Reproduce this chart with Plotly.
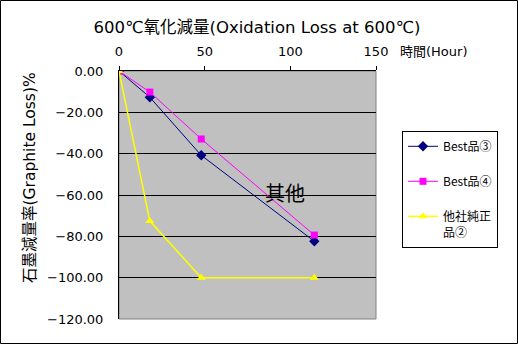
import plotly.graph_objects as go

hours = [0, 18, 48, 114]
best3 = [0, -12.7, -40.8, -82.4]
best4 = [0, -10.2, -32.9, -79.4]
other2 = [0, -72.6, -100.0, -100.0]

names = ["Best品③", "Best品④", "他社純正<br>品②"]
y_ticks = [0, -20, -40, -60, -80, -100, -120]
x_ticks = [0, 50, 100, 150]

FONT = "DejaVu Sans, Noto Sans CJK JP"
CJK = "Noto Sans CJK JP"

fig = go.Figure()
fig.add_trace(go.Scatter(x=hours, y=best3, name=names[0], legendgroup="a",
                         mode="lines+markers",
                         line=dict(color="#000080", width=1),
                         marker=dict(symbol="diamond", size=8, color="#000080")))
fig.add_trace(go.Scatter(x=hours, y=best4, name=names[1], legendgroup="b",
                         mode="lines+markers",
                         line=dict(color="#FF00FF", width=1),
                         marker=dict(symbol="square", size=7, color="#FF00FF")))
fig.add_trace(go.Scatter(x=hours, y=other2, name=names[2], legendgroup="c",
                         mode="lines+markers",
                         line=dict(color="#FFFF00", width=1.5),
                         marker=dict(symbol="triangle-up", size=8, color="#FFFF00")))

W, H = 518, 344
L, R, T, B = 119, 142, 71, 25
pw, ph = W - L - R, H - T - B

def px(xp):
    return (xp - L) / pw

def py(yp):
    return (H - B - yp) / ph

fig.update_layout(
    width=W, height=H, autosize=False,
    margin=dict(l=L, r=R, t=T, b=B, pad=0),
    paper_bgcolor="white", plot_bgcolor="#C0C0C0",
    font=dict(family=FONT, size=13, color="black"),
    title=dict(text="600℃氧化減量(Oxidation Loss at 600℃)", x=px(257), xref="paper",
               xanchor="center", y=1 - 27 / H, yanchor="middle",
               font=dict(family=FONT, size=16.5, color="black")),
    showlegend=True,
    legend=dict(x=px(402), y=py(131), xanchor="left", yanchor="top",
                bgcolor="white", bordercolor="black", borderwidth=1,
                font=dict(family=CJK, size=12, color="black"),
                tracegroupgap=16, traceorder="grouped", valign="top"),
    xaxis=dict(range=[0, 150], tickvals=x_ticks, side="top", showgrid=False,
               zeroline=False, showline=True, linecolor="black", linewidth=1,
               ticks="outside", ticklen=4, tickcolor="black",
               ticklabelstandoff=5,
               tickfont=dict(family=FONT, size=13)),
    yaxis=dict(range=[-120, 0], tickvals=y_ticks, tickformat=".2f",
               showgrid=True, gridcolor="black", gridwidth=1, zeroline=False,
               showline=True, linecolor="black", linewidth=1,
               ticks="outside", ticklen=12, tickcolor="rgba(0,0,0,0)",
               tickfont=dict(family=FONT, size=13)),
)

fig.add_shape(type="rect", xref="paper", yref="paper", x0=0, y0=0, x1=1, y1=1,
              line=dict(color="#808080", width=1), layer="below")
fig.add_shape(type="rect", xref="paper", yref="paper",
              x0=px(0.5), x1=px(W - 0.5), y0=py(H - 0.5), y1=py(0.5),
              line=dict(color="black", width=1))

fig.add_annotation(text="時間(Hour)", xref="paper", yref="paper",
                   x=px(398), y=py(52), xanchor="left", yanchor="middle",
                   showarrow=False, font=dict(family=FONT, size=13))
fig.add_annotation(text="石墨減量率(Graphite Loss)%", xref="paper", yref="paper",
                   x=px(30), y=py(178), xanchor="center", yanchor="middle",
                   textangle=-90, showarrow=False,
                   font=dict(family=FONT, size=15.5))
fig.add_annotation(text="其他", x=96.6, y=-58.6, xref="x", yref="y",
                   xanchor="center", yanchor="middle",
                   showarrow=False, font=dict(family=CJK, size=20))

fig.write_html("out.html")
